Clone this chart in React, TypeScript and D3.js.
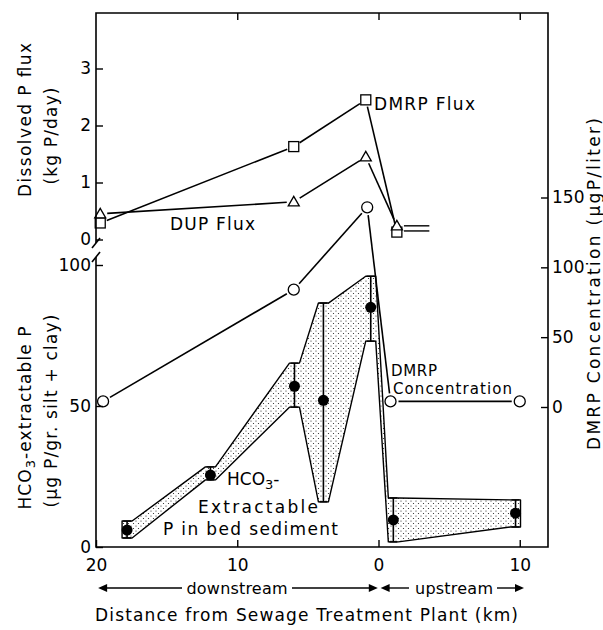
import React, { useRef, useEffect } from 'react';
import * as d3 from 'd3';

// distance from the plant in km: downstream negative, upstream positive
const fluxKm = [-19.7, -6, -0.9, 1.3];
const dmrpFlux = [0.29, 1.63, 2.45, 0.13];
const dupFlux = [0.45, 0.66, 1.45, 0.24];
// short "=" stubs right of the upstream flux points
const stubKm = [1.8, 3.6];
const dmrpStub = 0.15;
const dupStub = 0.24;

const concKm = [-19.5, -6, -0.8, 0.85, 10];
const dmrpConc = [4, 84, 143, 4, 4];

const sedKm = [-17.8, -11.9, -5.95, -3.9, -0.55, 1.05, 9.7];
const sedMean = [6, 25.5, 57, 52, 85, 9.6, 12];
const sedHigh = [9.2, 28.4, 65.2, 86.5, 96, 17.4, 16.7];
const sedLow = [3.2, 23.8, 49.6, 16, 73, 1.8, 7.1];

const xTicks = [-20, -10, 0, 10];
const fluxTicks = [0, 1, 2, 3];
const sedTicks = [0, 50, 100];
const concTicks = [0, 50, 100, 150];

const FONT = 'DejaVu Sans';

type Pt = [number, number];

const App: React.FC = () => {
  const ref = useRef<SVGSVGElement>(null);

  useEffect(() => {
    if (!ref.current) return;
    const svg = d3.select(ref.current);
    svg.selectAll('*').remove();

    const left = 96, right = 548, top = 13, bottom = 547;
    const x = d3.scaleLinear().domain([-20, 12]).range([left, right]);
    const yFlux = d3.scaleLinear().domain([0, 4]).range([239.5, 11.5]);
    const ySed = d3.scaleLinear().domain([0, 100]).range([bottom, 265]);
    const yConc = d3.scaleLinear().domain([0, 150]).range([407, 197.5]);
    const line = d3.line();
    const fmt = d3.format('d');

    // stipple for the sediment band
    const pat = svg.append('defs').append('pattern')
      .attr('id', 'stipple').attr('width', 5).attr('height', 5)
      .attr('patternUnits', 'userSpaceOnUse');
    pat.append('rect').attr('width', 5).attr('height', 5).attr('fill', '#fff');
    pat.append('circle').attr('cx', 1).attr('cy', 1).attr('r', 0.6).attr('fill', '#222');
    pat.append('circle').attr('cx', 3.5).attr('cy', 3.5).attr('r', 0.6).attr('fill', '#222');

    const g = svg.append('g');

    // sediment band built from error bar ends
    const cap = 5;
    const upper: Pt[] = sedKm.flatMap((k, i) => [
      [x(k) - cap, ySed(sedHigh[i])], [x(k) + cap, ySed(sedHigh[i])]] as Pt[]);
    const lower: Pt[] = sedKm.flatMap((k, i) => [
      [x(k) - cap, ySed(sedLow[i])], [x(k) + cap, ySed(sedLow[i])]] as Pt[]).reverse();
    g.append('path')
      .attr('d', line([...upper, ...lower]) + 'Z')
      .attr('fill', 'url(#stipple)')
      .attr('stroke', '#000').attr('stroke-width', 1.4).attr('stroke-linejoin', 'round');

    sedKm.forEach((k, i) => {
      const cx = x(k);
      g.append('line').attr('x1', cx).attr('x2', cx)
        .attr('y1', ySed(sedHigh[i])).attr('y2', ySed(sedLow[i]))
        .attr('stroke', '#000').attr('stroke-width', 1.6);
      [sedHigh[i], sedLow[i]].forEach(v => {
        g.append('line').attr('x1', cx - 4).attr('x2', cx + 4)
          .attr('y1', ySed(v)).attr('y2', ySed(v))
          .attr('stroke', '#000').attr('stroke-width', 1.4);
      });
      g.append('circle').attr('cx', cx).attr('cy', ySed(sedMean[i])).attr('r', 5.5).attr('fill', '#000');
    });

    // connecting lines that stop short of the markers
    const gapped = (pts: Pt[], gap: number) => {
      d3.pairs(pts).forEach(([a, b]) => {
        const dx = b[0] - a[0], dy = b[1] - a[1];
        const len = Math.hypot(dx, dy);
        const ux = dx / len, uy = dy / len;
        g.append('path')
          .attr('d', line([[a[0] + ux * gap, a[1] + uy * gap], [b[0] - ux * gap, b[1] - uy * gap]]))
          .attr('stroke', '#000').attr('stroke-width', 1.6).attr('fill', 'none');
      });
    };

    gapped(concKm.map((k, i) => [x(k), yConc(dmrpConc[i])] as Pt), 8);
    gapped(fluxKm.map((k, i) => [x(k), yFlux(dmrpFlux[i])] as Pt), 7);
    gapped(fluxKm.map((k, i) => [x(k), yFlux(dupFlux[i])] as Pt), 7);

    [dmrpStub, dupStub].forEach(v => {
      g.append('line').attr('x1', x(stubKm[0])).attr('x2', x(stubKm[1]))
        .attr('y1', yFlux(v)).attr('y2', yFlux(v))
        .attr('stroke', '#000').attr('stroke-width', 1.4);
    });

    // markers
    concKm.forEach((k, i) => {
      g.append('circle').attr('cx', x(k)).attr('cy', yConc(dmrpConc[i])).attr('r', 5.5)
        .attr('fill', '#fff').attr('stroke', '#000').attr('stroke-width', 1.3);
    });
    fluxKm.forEach((k, i) => {
      g.append('rect').attr('x', x(k) - 5).attr('y', yFlux(dmrpFlux[i]) - 5)
        .attr('width', 10).attr('height', 10)
        .attr('fill', '#fff').attr('stroke', '#000').attr('stroke-width', 1.3);
      const tx = x(k), ty = yFlux(dupFlux[i]);
      g.append('path')
        .attr('d', line([[tx, ty - 5.5], [tx + 5.5, ty + 4], [tx - 5.5, ty + 4]]) + 'Z')
        .attr('fill', '#fff').attr('stroke', '#000').attr('stroke-width', 1.3);
    });

    // axes
    const styleAxis = (a: d3.Selection<SVGGElement, unknown, null, undefined>) => {
      a.select('.domain').remove();
      a.selectAll('line').attr('stroke', '#000').attr('stroke-width', 1.4);
      a.selectAll('text').attr('font-family', FONT).attr('font-size', 17).attr('fill', '#000');
    };
    styleAxis(svg.append('g').attr('transform', `translate(${left},0)`)
      .call(d3.axisLeft(yFlux).tickValues(fluxTicks).tickSize(-7).tickPadding(5).tickFormat(d => fmt(+d))));
    styleAxis(svg.append('g').attr('transform', `translate(${left},0)`)
      .call(d3.axisLeft(ySed).tickValues(sedTicks).tickSize(-7).tickPadding(5).tickFormat(d => fmt(+d))));
    styleAxis(svg.append('g').attr('transform', `translate(${right},0)`)
      .call(d3.axisRight(yConc).tickValues(concTicks).tickSize(-7).tickPadding(4).tickFormat(d => fmt(+d))));
    styleAxis(svg.append('g').attr('transform', `translate(0,${bottom})`)
      .call(d3.axisBottom(x).tickValues(xTicks).tickSize(-7).tickPadding(12)
        .tickFormat(d => fmt(Math.abs(+d)))));
    styleAxis(svg.append('g').attr('transform', `translate(0,${top})`)
      .call(d3.axisTop(x).tickValues(xTicks.slice(1)).tickSize(-7).tickFormat(() => '')));

    // frame with a break on the left axis
    const frame = svg.append('g').attr('stroke', '#000').attr('stroke-width', 1.6).attr('fill', 'none');
    frame.append('path').attr('d', line([[left, 243], [left, top], [right, top], [right, bottom], [left, bottom], [left, 257]]));
    frame.append('path').attr('d', line([[left - 4, 248], [left + 4, 238]]));
    frame.append('path').attr('d', line([[left - 4, 262], [left + 4, 252]]));

    // text helper
    const text = (s: string, tx: number, ty: number, size: number, opts: { anchor?: string; rotate?: boolean; len?: number } = {}) => {
      const t = svg.append('text')
        .attr('transform', `translate(${tx},${ty})${opts.rotate ? ' rotate(-90)' : ''}`)
        .attr('font-family', FONT).attr('font-size', size).attr('fill', '#000')
        .attr('text-anchor', opts.anchor || 'start');
      if (opts.len) t.attr('textLength', opts.len).attr('lengthAdjust', 'spacing');
      t.text(s);
      return t;
    };

    // left titles
    text('Dissolved P flux', 31, 120, 17, { anchor: 'middle', rotate: true, len: 154 });
    text('(kg P/day)', 57, 136, 17, { anchor: 'middle', rotate: true, len: 97 });
    const hco = svg.append('text')
      .attr('transform', 'translate(31,418) rotate(-90)')
      .attr('font-family', FONT).attr('font-size', 17).attr('text-anchor', 'middle')
      .attr('textLength', 183).attr('lengthAdjust', 'spacing');
    hco.append('tspan').text('HCO');
    hco.append('tspan').attr('dy', 4).attr('font-size', 13).text('3');
    hco.append('tspan').attr('dy', -4).text('-extractable P');
    text('(µg P/gr. silt + clay)', 57, 411, 17, { anchor: 'middle', rotate: true, len: 193 });

    // right title
    text('DMRP  Concentration  (µgP/liter)', 600, 284, 17, { anchor: 'middle', rotate: true, len: 332 });

    // in-plot labels
    text('DMRP Flux', 374, 110, 17, { len: 101 });
    text('DUP Flux', 170, 230, 17, { len: 85 });
    text('DMRP', 391, 376, 15, { len: 46 });
    text('Concentration', 393, 394, 15, { len: 119 });
    const lab = svg.append('text').attr('transform', 'translate(227,485)')
      .attr('font-family', FONT).attr('font-size', 17);
    lab.append('tspan').text('HCO');
    lab.append('tspan').attr('dy', 4).attr('font-size', 13).text('3');
    lab.append('tspan').attr('dy', -4).text('-');
    text('Extractable', 198, 513, 17, { len: 120 });
    text('P in bed sediment', 163, 535, 17, { len: 175 });

    // direction arrows
    const arrowY = 588;
    const arrow = (x1: number, x2: number) => {
      const dir = Math.sign(x2 - x1);
      svg.append('line').attr('x1', x1).attr('x2', x2 - dir * 7).attr('y1', arrowY).attr('y2', arrowY)
        .attr('stroke', '#000').attr('stroke-width', 1.4);
      svg.append('path')
        .attr('d', line([[x2, arrowY], [x2 - dir * 9, arrowY - 4], [x2 - dir * 9, arrowY + 4]]) + 'Z')
        .attr('fill', '#000');
    };
    arrow(182, x(-19.85));
    arrow(292, x(-0.05));
    arrow(409, x(0.15));
    arrow(497, x(10.3));
    text('downstream', 237, 594, 16, { anchor: 'middle', len: 101 });
    text('upstream', 454, 594, 16, { anchor: 'middle', len: 78 });

    text('Distance from Sewage Treatment Plant (km)', 95, 621, 17, { len: 423 });
  }, []);

  return (
    <svg ref={ref} width={603} height={630}
      style={{ position: 'absolute', left: 0, top: 0, background: '#fff' }} />
  );
};

export default App;
